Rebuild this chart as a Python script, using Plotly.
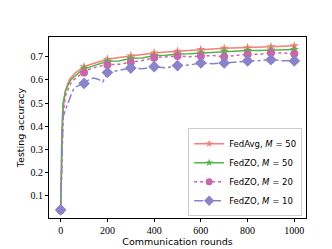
import plotly.graph_objects as go

rounds = [0, 5, 10, 20, 30, 40, 50, 60, 70, 80, 90, 100, 120, 140, 160, 180, 200,
          250, 300, 350, 400, 450, 500, 550, 600, 650, 700, 750, 800, 850, 900, 950, 1000]

fedavg_50 = [0.04, 0.35, 0.47, 0.55, 0.585, 0.605, 0.618, 0.628, 0.636, 0.643, 0.650, 0.657,
             0.664, 0.671, 0.677, 0.683, 0.689, 0.697, 0.704, 0.710, 0.716, 0.720, 0.724, 0.728,
             0.731, 0.733, 0.736, 0.737, 0.739, 0.741, 0.743, 0.745, 0.747]
fedzo_50 = [0.04, 0.38, 0.50, 0.55, 0.575, 0.595, 0.607, 0.617, 0.625, 0.633, 0.640, 0.648,
            0.654, 0.661, 0.668, 0.674, 0.680, 0.682, 0.693, 0.695, 0.705, 0.706, 0.712, 0.713,
            0.716, 0.720, 0.724, 0.725, 0.727, 0.727, 0.729, 0.730, 0.731]
fedzo_20 = [0.04, 0.33, 0.45, 0.53, 0.56, 0.58, 0.595, 0.605, 0.612, 0.620, 0.626, 0.632,
            0.645, 0.652, 0.658, 0.662, 0.665, 0.668, 0.676, 0.684, 0.696, 0.698, 0.703, 0.700,
            0.703, 0.705, 0.700, 0.706, 0.711, 0.710, 0.717, 0.716, 0.713]
fedzo_10 = [0.04, 0.30, 0.44, 0.47, 0.50, 0.53, 0.55, 0.568, 0.572, 0.575, 0.580, 0.585,
            0.600, 0.608, 0.603, 0.591, 0.632, 0.642, 0.651, 0.648, 0.657, 0.652, 0.662, 0.664,
            0.673, 0.670, 0.673, 0.676, 0.682, 0.684, 0.687, 0.683, 0.682]

marker_rounds = [0, 100, 200, 300, 400, 500, 600, 700, 800, 900, 1000]

series = [
    ("FedAvg, <i>M</i> = 50", fedavg_50, "#f47f78", "solid", "star", 7),
    ("FedZO, <i>M</i> = 50", fedzo_50, "#55b34a", "solid", "star", 7),
    ("FedZO, <i>M</i> = 20", fedzo_20, "#c766a8", "dot", "circle", 8),
    ("FedZO, <i>M</i> = 10", fedzo_10, "#8a83c9", "dashdot", "diamond", 9),
]

fig = go.Figure()
for name, vals, color, dash, sym, ms in series:
    fig.add_trace(go.Scatter(x=rounds, y=vals, mode="lines",
                             line=dict(color=color, width=1.5, dash=dash),
                             showlegend=False, hoverinfo="skip"))
    mx = [r for r in rounds if r in marker_rounds]
    my = [v for r, v in zip(rounds, vals) if r in marker_rounds]
    fig.add_trace(go.Scatter(x=mx, y=my, mode="markers",
                             marker=dict(color=color, symbol=sym, size=ms, line=dict(width=0)),
                             showlegend=False))
    fig.add_trace(go.Scatter(x=[None], y=[None], mode="lines+markers", name=name,
                             line=dict(color=color, width=1.5, dash=dash),
                             marker=dict(color=color, symbol=sym, size=ms - 1, line=dict(width=0))))

tickfont = dict(family="Liberation Serif", size=10, color="black")
fig.update_layout(
    width=332, height=249,
    margin=dict(l=41, r=34, t=29, b=28),
    paper_bgcolor="white", plot_bgcolor="white",
    font=dict(family="DejaVu Sans", size=9, color="black"),
    legend=dict(x=0.985, y=0.01, xanchor="right", yanchor="bottom",
                bgcolor="rgba(255,255,255,0.8)", bordercolor="#cccccc", borderwidth=1,
                font=dict(family="DejaVu Sans", size=8.5), itemwidth=30,
                tracegroupgap=0),
    xaxis=dict(range=[-50, 1050], tickvals=[0, 200, 400, 600, 800, 1000],
               ticks="outside", ticklen=3, tickcolor="black", tickfont=tickfont,
               showline=True, linecolor="black", linewidth=1, mirror=True,
               showgrid=False, zeroline=False,
               title=dict(text="Communication rounds", font=dict(size=9.5), standoff=2)),
    yaxis=dict(range=[0.005, 0.785], tickvals=[0.1, 0.2, 0.3, 0.4, 0.5, 0.6, 0.7],
               ticktext=["0.1", "0.2", "0.3", "0.4", "0.5", "0.6", "0.7"],
               ticks="outside", ticklen=3, tickcolor="black", tickfont=tickfont,
               showline=True, linecolor="black", linewidth=1, mirror=True,
               showgrid=False, zeroline=False,
               title=dict(text="Testing accuracy", font=dict(size=9.5), standoff=4)),
)

fig.write_html("out.html")
